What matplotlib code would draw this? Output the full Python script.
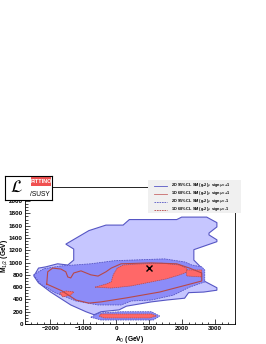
import matplotlib
matplotlib.use("Agg")
import matplotlib.pyplot as plt
from matplotlib.ticker import MultipleLocator
from matplotlib.lines import Line2D
from matplotlib.patches import Rectangle

# ---------------- data (A0 in GeV, M1/2 in GeV) ----------------
# 2D 95% CL, sign mu = +1 (light area, solid blue edge)
cl95_pos_x = [-2500, -2360, -2140, -1780, -1470, -1290, -1290, -1530, -830, -310, 210, 400,
              1840, 1990, 2750, 3060, 3060, 2820, 2820, 3060, 3060, 2360, 2360, 2600, 2600,
              3060, 3060, 2660, 2200, 2080, 1530, 1070, 310, 90, -460, -670, -920, -1380,
              -1990, -2360]
cl95_pos_y = [780, 910, 930, 980, 960, 1040, 1220, 1300, 1520, 1610, 1610, 1700,
              1700, 1740, 1740, 1650, 1580, 1480, 1450, 1370, 1340, 1210, 1040, 910, 720,
              590, 550, 520, 510, 420, 390, 360, 290, 230, 200, 150, 200, 310,
              520, 670]

# 2D 95% CL, sign mu = -1 (medium area, dashed blue edge)
cl95_neg_x = [-2510, -2200, -1680, -770, -60, 1470, 2080, 2300, 2600, 2690, 2690, 2230,
              1740, 1070, 460, 150, -550, -1220, -1840, -2300]
cl95_neg_y = [800, 900, 945, 980, 1030, 1060, 1010, 960, 930, 880, 685, 600,
              470, 390, 375, 310, 310, 375, 505, 650]
cl95_neg_low_x = [-770, -520, 150, 1070, 1320, 1130, -460]
cl95_neg_low_y = [110, 180, 200, 200, 130, 65, 65]

# 1D 68% CL, sign mu = +1 (solid red contour)
cl68_pos_x = [-2110, -2080, -1930, -1680, -1530, -1470, -1380, -1290, -1070, -770, -550,
              -310, -150, 150, 1070, 1840, 2230, 2600, 2600, 2140, 1320, 310, -460, -830,
              -1220, -1650, -2110]
cl68_pos_y = [650, 850, 910, 895, 850, 765, 750, 830, 865, 800, 780,
              850, 910, 980, 995, 980, 910, 830, 700, 635, 520, 425, 360, 340,
              390, 540, 650]

# 1D 68% CL, sign mu = -1 (red areas)
cl68_neg_x = [-640, -310, -150, -90, 30, 210, 610, 1380, 1930, 2140, 2170, 1930, 1530,
              1070, 460, -150]
cl68_neg_y = [600, 650, 685, 800, 910, 960, 975, 990, 960, 910, 850, 800, 735,
              685, 620, 585]
cl68_neg_left_x = [-1714, -1530, -1285, -1377, -1622]
cl68_neg_left_y = [505, 538, 522, 473, 440]
cl68_neg_right_x = [2140, 2600, 2600, 2140]
cl68_neg_right_y = [880, 880, 766, 782]
cl68_neg_low_x = [-460, 1070, 1220, 1010, -370, -520]
cl68_neg_low_y = [163, 163, 130, 98, 98, 130]

# best fit point
best_x = [990]
best_y = [905]

legend_labels = [r"2D 95% CL SM (g-2)$_{\mu}$  sign$\mu$=+1",
                 r"1D 68% CL SM (g-2)$_{\mu}$  sign$\mu$=+1",
                 r"2D 95% CL SM (g-2)$_{\mu}$  sign$\mu$=-1",
                 r"1D 68% CL SM (g-2)$_{\mu}$  sign$\mu$=-1"]

# ---------------- style ----------------
plt.rcParams['font.family'] = ['Liberation Sans', 'DejaVu Sans']
light = '#c6c6ff'
medium = '#8c8cf8'
red = '#ff6868'
blue_line = '#5656c4'
red_line = '#b84848'

fig = plt.figure(figsize=(2.66, 3.44), dpi=100)
ax = fig.add_axes([25/266, 1-324/344, 210/266, 137/344])

ax.fill(cl95_pos_x, cl95_pos_y, facecolor=light, edgecolor=blue_line, lw=0.8, zorder=1)
ax.fill(cl95_neg_x, cl95_neg_y, facecolor=medium, edgecolor=blue_line, lw=0.6,
        ls=(0, (2, 1)), zorder=2)
ax.fill(cl95_neg_low_x, cl95_neg_low_y, facecolor=medium, edgecolor=blue_line, lw=0.6,
        ls=(0, (2, 1)), zorder=2)
for xs, ys in [(cl68_neg_x, cl68_neg_y), (cl68_neg_left_x, cl68_neg_left_y),
               (cl68_neg_right_x, cl68_neg_right_y), (cl68_neg_low_x, cl68_neg_low_y)]:
    ax.fill(xs, ys, facecolor=red, edgecolor=red_line, lw=0.5, ls=(0, (2, 1)), zorder=3)
ax.plot(cl68_pos_x, cl68_pos_y, color=red_line, lw=0.8, zorder=4)
ax.plot(best_x, best_y, marker='x', color='black', ms=4, mew=1.0, ls='none', zorder=5)

ax.set_xlim(-2770, 3610)
ax.set_ylim(0, 2230)
ax.xaxis.set_major_locator(MultipleLocator(1000))
ax.xaxis.set_minor_locator(MultipleLocator(200))
ax.yaxis.set_major_locator(MultipleLocator(200))
ax.yaxis.set_minor_locator(MultipleLocator(50))
ax.tick_params(which='both', direction='in', top=False, right=False,
               labelsize=4.5, width=0.5, pad=1.5)
ax.tick_params(which='major', length=3.5)
ax.tick_params(which='minor', length=1.8)
for lab in ax.get_xticklabels() + ax.get_yticklabels():
    lab.set_fontweight('bold')
for s in ax.spines.values():
    s.set_linewidth(0.6)
ax.set_xlabel(r"A$_0$ (GeV)", fontsize=4.8, fontweight='bold', labelpad=2)
ax.set_ylabel(r"M$_{1/2}$ (GeV)", fontsize=4.8, fontweight='bold')
ax.yaxis.set_label_coords(-0.07, 0.5)

# legend box
lax = fig.add_axes([148/266, 1-213/344, 93/266, 33/344])
lax.set_xlim(0, 1)
lax.set_ylim(0, 1)
lax.axis('off')
lax.add_patch(Rectangle((0, 0), 1, 1, facecolor='#f0f0f0', edgecolor='#f0f0f0',
                        transform=lax.transAxes))
styles = [(blue_line, '-'), ('#c86a6a', '-'), (blue_line, (0, (2, 1))),
          (red_line, (0, (2, 1)))]
ys = [0.83, 0.58, 0.34, 0.10]
for (c, l), yy, lab in zip(styles, ys, legend_labels):
    lax.add_line(Line2D([0.06, 0.2], [yy, yy], color=c, ls=l, lw=0.6))
    lax.text(0.25, yy, lab, fontsize=2.8, fontweight='bold', va='center', ha='left')

# logo
gax = fig.add_axes([5/266, 1-200/344, 47/266, 24/344])
gax.set_xlim(0, 1)
gax.set_ylim(0, 1)
gax.set_xticks([])
gax.set_yticks([])
for s in gax.spines.values():
    s.set_linewidth(0.8)
gax.add_patch(Rectangle((0.55, 0.6), 0.43, 0.37, facecolor='#f05050', edgecolor='none'))
gax.text(0.765, 0.785, 'FITTINO', color='white', fontsize=4.0, fontweight='bold',
         ha='center', va='center')
gax.text(0.25, 0.52, r'$\mathcal{L}$', fontsize=12, ha='center', va='center')
gax.text(0.75, 0.25, '/SUSY', fontsize=4.8, ha='center', va='center')

fig.savefig('out.png', dpi=100)
